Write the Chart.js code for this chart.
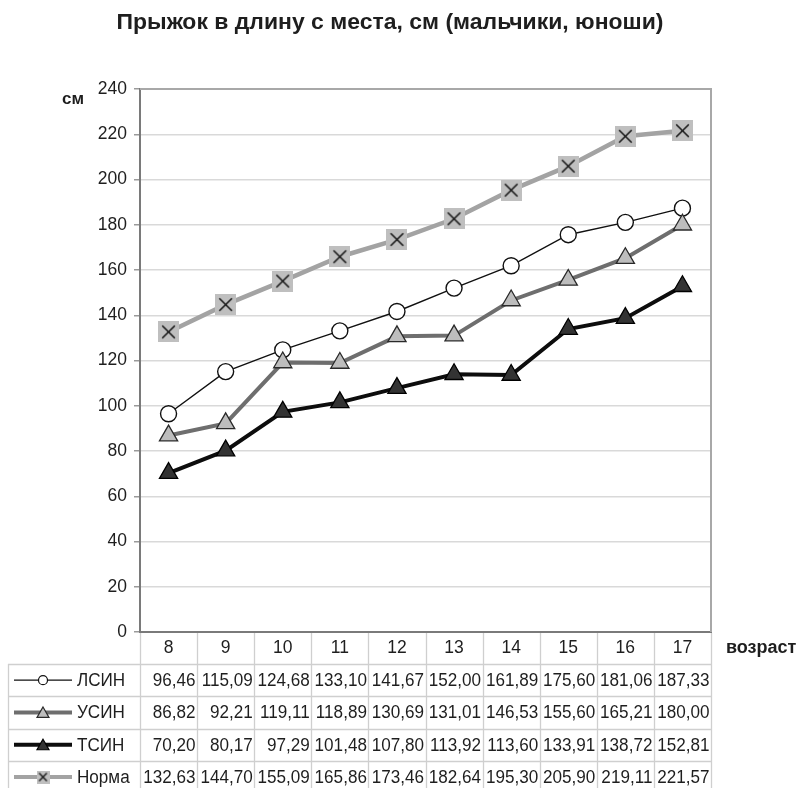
<!DOCTYPE html>
<html>
<head>
<meta charset="utf-8">
<script src="https://cdn.jsdelivr.net/npm/chart.js@4.4.1/dist/chart.umd.min.js"></script>
<style>
  html, body { margin: 0; padding: 0; background: #fff; }
  #wrap { width: 801px; height: 788px; position: relative; }
</style>
</head>
<body>
<div id="wrap"><canvas id="c" width="801" height="788"></canvas></div>
<script>
// Age groups (years)
const ages = ['8', '9', '10', '11', '12', '13', '14', '15', '16', '17'];

// Standing long jump, cm
const lsin  = [96.46, 115.09, 124.68, 133.10, 141.67, 152.00, 161.89, 175.60, 181.06, 187.33];
const usin  = [86.82, 92.21, 119.11, 118.89, 130.69, 131.01, 146.53, 155.60, 165.21, 180.00];
const tsin  = [70.20, 80.17, 97.29, 101.48, 107.80, 113.92, 113.60, 133.91, 138.72, 152.81];
const norma = [132.63, 144.70, 155.09, 165.86, 173.46, 182.64, 195.30, 205.90, 219.11, 221.57];

const seriesNames = ['ЛСИН', 'УСИН', 'ТСИН', 'Норма'];

const FONT = '"Liberation Sans", Arial, sans-serif';
const TEXT = '#1e1e1e';

// Grey square with a cross, used as the marker of the norm series
function crossSquare(size, lw) {
  const cv = document.createElement('canvas');
  cv.width = size; cv.height = size;
  const g = cv.getContext('2d');
  g.fillStyle = '#bfbfbf';
  g.fillRect(0, 0, size, size);
  g.strokeStyle = '#1a1a1a';
  g.lineWidth = lw;
  const m = size * 0.2;
  g.beginPath();
  g.moveTo(m, m); g.lineTo(size - m, size - m);
  g.moveTo(size - m, m); g.lineTo(m, size - m);
  g.stroke();
  return cv;
}
const normaMarker = crossSquare(21, 1.6);
const normaMarkerSmall = crossSquare(13, 1.4);

const styles = [
  { line: '#111', width: 1.4, style: 'circle', fill: '#fff', border: '#111', radius: 8, bw: 1.4 },
  { line: '#6e6e6e', width: 4, style: 'triangle', fill: '#bdbdbd', border: '#2a2a2a', radius: 10.5, bw: 1.3 },
  { line: '#0d0d0d', width: 4, style: 'triangle', fill: '#333', border: '#000', radius: 10.5, bw: 1.3 },
  { line: '#a3a3a3', width: 4.5, style: normaMarker, fill: '#bfbfbf', border: '#222', radius: 10, bw: 1 }
];
const allSeries = [lsin, usin, tsin, norma];

const datasets = allSeries.map((vals, i) => ({
  label: seriesNames[i],
  data: vals,
  borderColor: styles[i].line,
  borderWidth: styles[i].width,
  pointStyle: styles[i].style,
  pointRadius: styles[i].radius,
  pointBackgroundColor: styles[i].fill,
  pointBorderColor: styles[i].border,
  pointBorderWidth: styles[i].bw,
  tension: 0,
  order: 4 - i
}));

// draws text squeezed horizontally by sx
function narrowText(ctx, txt, x, y, align, sx) {
  ctx.save();
  ctx.translate(x, y);
  ctx.scale(sx, 1);
  ctx.textAlign = align;
  ctx.fillText(txt, 0, 0);
  ctx.restore();
}

// Title, unit labels, plot frame
const decorPlugin = {
  id: 'decor',
  beforeDatasetsDraw(chart) {
    const { ctx, chartArea: a } = chart;
    ctx.save();
    ctx.strokeStyle = '#a8a8a8';
    ctx.lineWidth = 2;
    ctx.beginPath();
    ctx.moveTo(a.left, a.top);
    ctx.lineTo(a.right, a.top);
    ctx.lineTo(a.right, a.bottom);
    ctx.stroke();
    ctx.restore();
  },
  afterDraw(chart) {
    const { ctx } = chart;
    ctx.save();
    ctx.fillStyle = TEXT;
    ctx.textBaseline = 'alphabetic';
    // title
    ctx.font = 'bold 22px ' + FONT;
    const title = 'Прыжок в длину с места, см (мальчики, юноши)';
    const w = ctx.measureText(title).width;
    narrowText(ctx, title, 390, 29, 'center', 547 / w);
    // axis units
    ctx.textBaseline = 'middle';
    ctx.font = 'bold 17px ' + FONT;
    ctx.textAlign = 'center';
    ctx.fillText('см', 73, 99);
    ctx.font = 'bold 18px ' + FONT;
    const wv = ctx.measureText('возраст').width;
    narrowText(ctx, 'возраст', 726, 648, 'left', Math.min(1, 74 / wv));
    ctx.restore();
  }
};

// Data table under the x axis with legend keys
const tablePlugin = {
  id: 'dataTable',
  afterDraw(chart) {
    const { ctx, chartArea: a } = chart;
    const n = ages.length;
    const colW = (a.right - a.left) / n;
    const tableLeft = 8;
    const headBottom = 664;
    const rowH = 32.3;
    const bottom = 788;
    ctx.save();
    ctx.strokeStyle = '#cfcfcf';
    ctx.lineWidth = 1.3;
    ctx.beginPath();
    for (let i = 0; i <= n; i++) {
      const x = Math.round(a.left + i * colW) + 0.5;
      ctx.moveTo(x, a.bottom + 1);
      ctx.lineTo(x, bottom);
    }
    ctx.moveTo(tableLeft + 0.5, headBottom);
    ctx.lineTo(tableLeft + 0.5, bottom);
    for (let r = 0; r < seriesNames.length; r++) {
      const y = Math.round(headBottom + r * rowH) + 0.5;
      ctx.moveTo(tableLeft, y);
      ctx.lineTo(a.right, y);
    }
    ctx.stroke();

    ctx.textBaseline = 'middle';
    for (let r = 0; r < seriesNames.length; r++) {
      const cy = headBottom + (r + 0.5) * rowH;
      const s = styles[r];
      // legend key line
      ctx.strokeStyle = s.line;
      ctx.lineWidth = r === 0 ? 1.4 : 4;
      ctx.beginPath();
      ctx.moveTo(14, cy);
      ctx.lineTo(72, cy);
      ctx.stroke();
      // legend key marker
      ctx.lineWidth = 1.2;
      if (r === 0) {
        ctx.fillStyle = '#fff'; ctx.strokeStyle = '#111';
        ctx.beginPath(); ctx.arc(43, cy, 4.5, 0, Math.PI * 2); ctx.fill(); ctx.stroke();
      } else if (r === 1 || r === 2) {
        ctx.fillStyle = s.fill; ctx.strokeStyle = s.border;
        ctx.beginPath();
        ctx.moveTo(43, cy - 5.5); ctx.lineTo(49, cy + 5); ctx.lineTo(37, cy + 5); ctx.closePath();
        ctx.fill(); ctx.stroke();
      } else {
        ctx.drawImage(normaMarkerSmall, 43 - 6.5, cy - 6.5);
      }
      ctx.fillStyle = TEXT;
      ctx.font = '18px ' + FONT;
      narrowText(ctx, seriesNames[r], 77, cy + 1, 'left', 0.95);
      // values, right-aligned in each column
      allSeries[r].forEach((v, i) => {
        const xr = a.left + (i + 1) * colW - 1.5;
        narrowText(ctx, v.toFixed(2).replace('.', ','), xr, cy + 1, 'right', 0.95);
      });
    }
    ctx.restore();
  }
};

new Chart(document.getElementById('c'), {
  type: 'line',
  data: { labels: ages, datasets },
  options: {
    responsive: false,
    animation: false,
    devicePixelRatio: 1,
    layout: { padding: { left: 0, right: 90, top: 89, bottom: 0 } },
    plugins: { legend: { display: false }, title: { display: false }, tooltip: { enabled: false } },
    scales: {
      x: {
        offset: true,
        grid: { display: false, drawTicks: false },
        border: { color: '#7a7a7a', width: 2 },
        ticks: { color: TEXT, font: { size: 17.5, family: FONT }, padding: 6 },
        afterFit(s) { s.height = 156; }
      },
      y: {
        min: 0, max: 240,
        ticks: { stepSize: 20, color: TEXT, font: { size: 17.5, family: FONT }, padding: 7 },
        grid: { color: '#d9d9d9', lineWidth: 1.5, tickLength: 6, tickColor: '#9a9a9a' },
        border: { color: '#7a7a7a', width: 2 },
        afterFit(s) { s.width = 140; }
      }
    }
  },
  plugins: [decorPlugin, tablePlugin]
});
</script>
</body>
</html>
